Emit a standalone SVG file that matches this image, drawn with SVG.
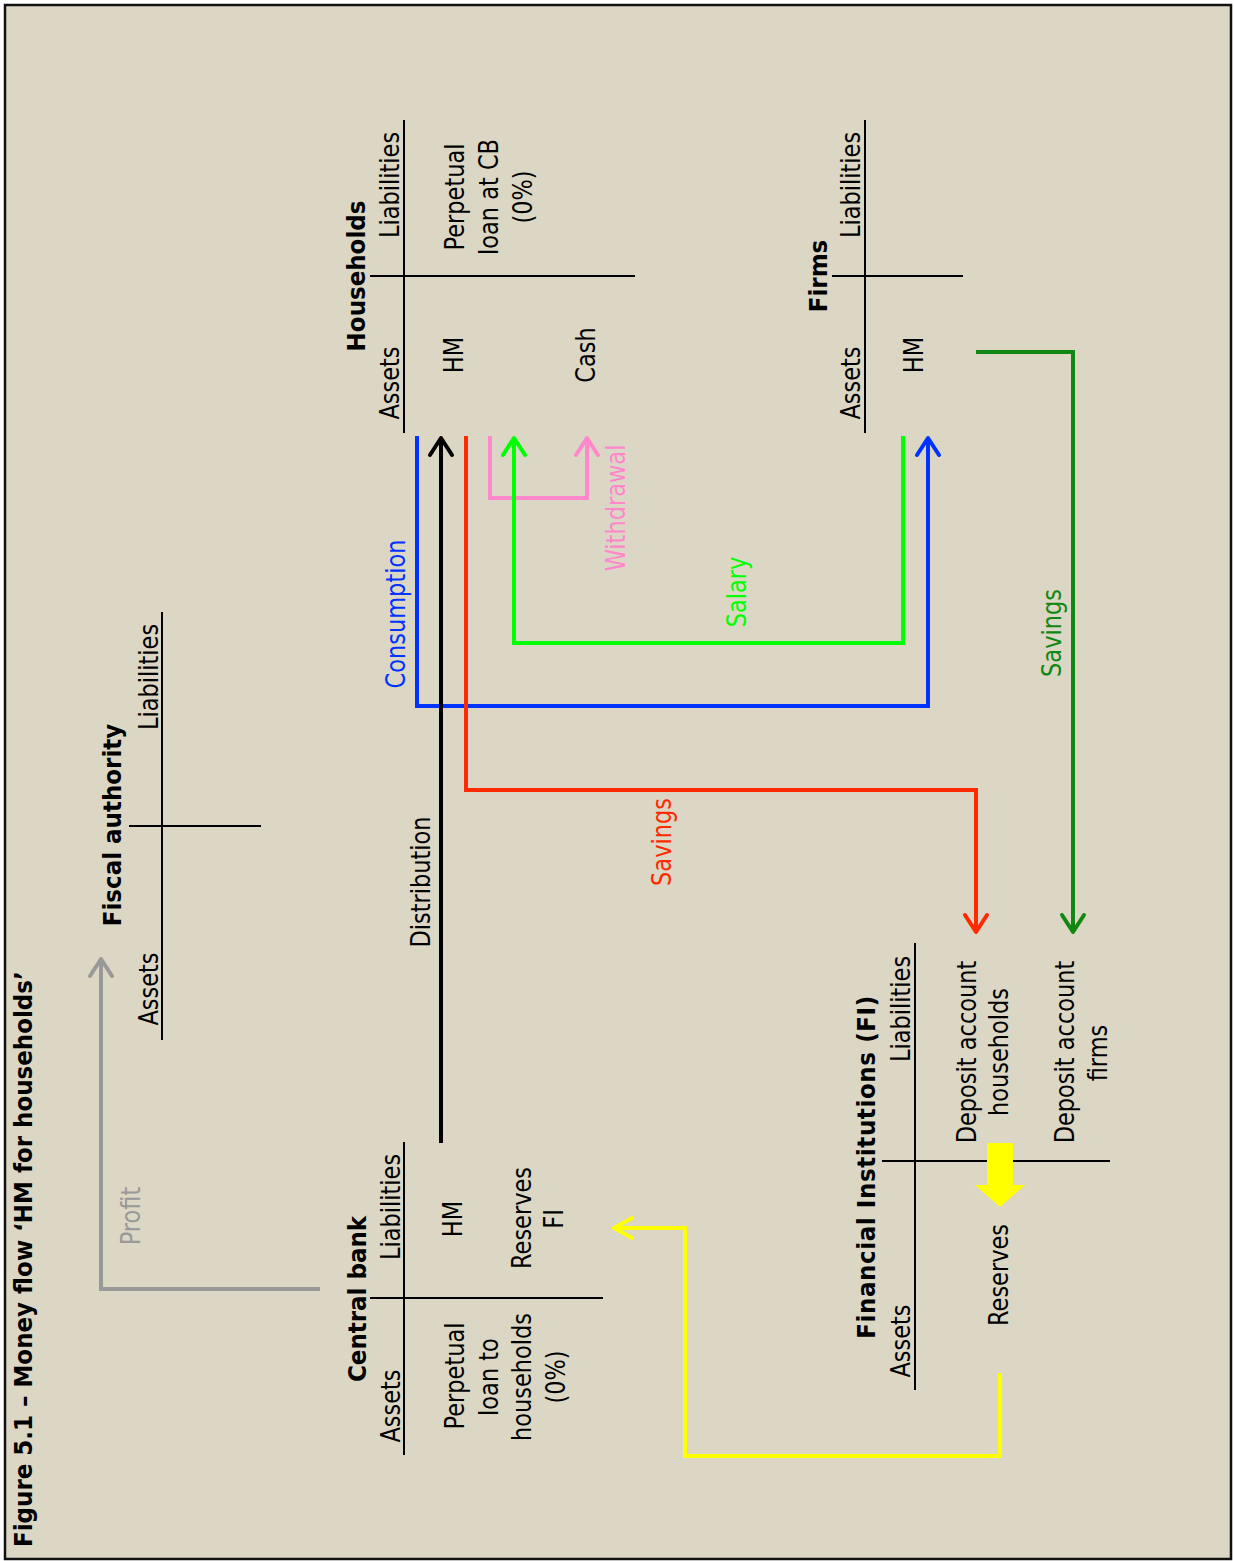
<svg xmlns="http://www.w3.org/2000/svg" width="1234" height="1561" viewBox="0 0 1234 1561">
<style>
.t{font-family:"DejaVu Sans","Liberation Sans",sans-serif;font-size:22.5px;fill:#000;text-anchor:middle}
.b{font-weight:bold;font-size:23px}
.s{text-anchor:start}
.ln{stroke:#000;stroke-width:2;fill:none}
.c{fill:none;stroke-width:4;stroke-linejoin:miter}
.h{fill:none;stroke-width:4;stroke-linecap:round;stroke-linejoin:round}
</style>
<rect x="0" y="0" width="1234" height="1561" fill="#fff"/>
<rect x="5" y="5" width="1226" height="1554" fill="#DCD7C5" stroke="#111" stroke-width="2.5"/>

<text class="t b s" transform="matrix(0,-1,1.1,0,32,1547)">Figure 5.1 – Money flow ‘HM for households’</text>

<g id="fiscal-authority">
<line class="ln" x1="162" y1="612" x2="162" y2="1040"/>
<line class="ln" x1="129" y1="826" x2="261" y2="826"/>
<text class="t b" transform="matrix(0,-1,1.1,0,121,825)">Fiscal authority</text>
<text class="t" transform="matrix(0,-1,1.17,0,158,677)">Liabilities</text>
<text class="t" transform="matrix(0,-1,1.17,0,158,989)">Assets</text>
</g>

<g id="central-bank">
<line class="ln" x1="404" y1="1142" x2="404" y2="1455"/>
<line class="ln" x1="370" y1="1298" x2="603" y2="1298"/>
<text class="t b" transform="matrix(0,-1,1.1,0,366,1299)">Central bank</text>
<text class="t" transform="matrix(0,-1,1.17,0,400,1207)">Liabilities</text>
<text class="t" transform="matrix(0,-1,1.17,0,400,1406)">Assets</text>
<text class="t" transform="matrix(0,-1,1.17,0,462,1219)">HM</text>
<text class="t" transform="matrix(0,-1,1.17,0,531,1218)">Reserves</text>
<text class="t" transform="matrix(0,-1,1.17,0,563,1219)">FI</text>
<text class="t" transform="matrix(0,-1,1.17,0,464,1376)">Perpetual</text>
<text class="t" transform="matrix(0,-1,1.17,0,498,1377)">loan to</text>
<text class="t" transform="matrix(0,-1,1.17,0,531,1377)">households</text>
<text class="t" transform="matrix(0,-1,1.17,0,565,1377)">(0%)</text>
</g>

<g id="households">
<line class="ln" x1="404" y1="120" x2="404" y2="433"/>
<line class="ln" x1="370" y1="276" x2="635" y2="276"/>
<text class="t b" transform="matrix(0,-1,1.1,0,365,276)">Households</text>
<text class="t" transform="matrix(0,-1,1.17,0,399,185)">Liabilities</text>
<text class="t" transform="matrix(0,-1,1.17,0,399,383)">Assets</text>
<text class="t" transform="matrix(0,-1,1.17,0,463,355)">HM</text>
<text class="t" transform="matrix(0,-1,1.17,0,595,355)">Cash</text>
<text class="t" transform="matrix(0,-1,1.17,0,464,197)">Perpetual</text>
<text class="t" transform="matrix(0,-1,1.17,0,498,197)">loan at CB</text>
<text class="t" transform="matrix(0,-1,1.17,0,532,197)">(0%)</text>
</g>

<g id="firms">
<line class="ln" x1="865" y1="120" x2="865" y2="433"/>
<line class="ln" x1="832" y1="276" x2="963" y2="276"/>
<text class="t b" transform="matrix(0,-1,1.1,0,827,276)">Firms</text>
<text class="t" transform="matrix(0,-1,1.17,0,860,185)">Liabilities</text>
<text class="t" transform="matrix(0,-1,1.17,0,860,383)">Assets</text>
<text class="t" transform="matrix(0,-1,1.17,0,923,355)">HM</text>
</g>

<g id="financial-institutions">
<line class="ln" x1="915" y1="943" x2="915" y2="1390"/>
<line class="ln" x1="882" y1="1161" x2="1110" y2="1161"/>
<text class="t b" transform="matrix(0,-1,1.1,0,875,1167)" letter-spacing="0.6">Financial Institutions (FI)</text>
<text class="t" transform="matrix(0,-1,1.17,0,910,1009)">Liabilities</text>
<text class="t" transform="matrix(0,-1,1.17,0,910,1341)">Assets</text>
<text class="t" transform="matrix(0,-1,1.17,0,976,1052)">Deposit account</text>
<text class="t" transform="matrix(0,-1,1.17,0,1008,1052)">households</text>
<text class="t" transform="matrix(0,-1,1.17,0,1074,1052)">Deposit account</text>
<text class="t" transform="matrix(0,-1,1.17,0,1107,1053)">firms</text>
<text class="t" transform="matrix(0,-1,1.17,0,1008,1275)">Reserves</text>
<polygon points="987,1143 1013,1143 1013,1185 1025,1185 1000,1207 975,1185 987,1185" fill="#FFFF00"/>
</g>

<g id="connectors">
<path class="c" stroke="#0033FF" d="M417,436 V706 H928 V438"/>
<path class="h" stroke="#0033FF" d="M917,455 L928,438 L939,455"/>
<path class="c" stroke="#000" d="M441,1143 V438"/>
<path class="h" stroke="#000" d="M430,455 L441,438 L452,455"/>
<path class="c" stroke="#FF2A00" d="M466,436 V790 H976 V932"/>
<path class="h" stroke="#FF2A00" d="M965,915 L976,932 L987,915"/>
<path class="c" stroke="#FF88CC" d="M490,436 V498 H587 V438"/>
<path class="h" stroke="#FF88CC" d="M576,455 L587,438 L598,455"/>
<path class="c" stroke="#00FF00" d="M903,436 V643 H514 V438"/>
<path class="h" stroke="#00FF00" d="M503,455 L514,438 L525,455"/>
<path class="c" stroke="#118811" d="M976,352 H1073 V932"/>
<path class="h" stroke="#118811" d="M1062,915 L1073,932 L1084,915"/>
<path class="c" stroke="#999" d="M320,1289 H101 V959"/>
<path class="h" stroke="#999" d="M90,976 L101,959 L112,976"/>
<path class="c" stroke="#FFFF00" d="M1000,1373 V1456 H685 V1228 H614"/>
<path class="h" stroke="#FFFF00" d="M632,1218 L614,1228 L632,1238"/>
<text class="t" style="fill:#0033FF" transform="matrix(0,-1,1.17,0,405,614)">Consumption</text>
<text class="t" transform="matrix(0,-1,1.17,0,430,882)">Distribution</text>
<text class="t" style="fill:#FF2A00" transform="matrix(0,-1,1.17,0,671,842)">Savings</text>
<text class="t" style="fill:#FF88CC" transform="matrix(0,-1,1.17,0,625,508)">Withdrawal</text>
<text class="t" style="fill:#00FF00" transform="matrix(0,-1,1.17,0,746,592)">Salary</text>
<text class="t" style="fill:#118811" transform="matrix(0,-1,1.17,0,1061,633)">Savings</text>
<text class="t" style="fill:#999" transform="matrix(0,-1,1.17,0,140,1216)">Profit</text>
</g>
</svg>
